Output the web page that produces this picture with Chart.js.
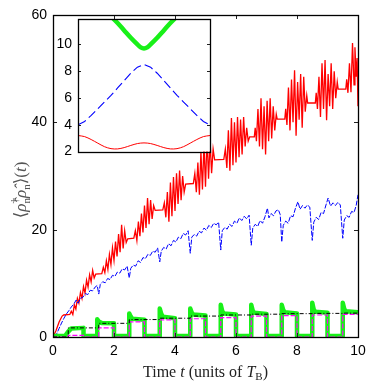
<!DOCTYPE html>
<html>
<head>
<meta charset="utf-8">
<script src="https://cdn.jsdelivr.net/npm/chart.js@4.4.1/dist/chart.umd.min.js"></script>
<style>
  body { margin: 0; background: #fff; }
  #wrap { position: relative; width: 374px; height: 387px; }
  #mainChart { position: absolute; left: 0; top: 0; }
  #insetChart { position: absolute; left: 54px; top: 4px; }
</style>
</head>
<body>
<div id="wrap">
  <canvas id="mainChart" width="374" height="387"></canvas>
  <canvas id="insetChart" width="160" height="162"></canvas>
</div>
<script>
// ---- main panel data (time in units of T_B) ----
const xTicks = [0, 2, 4, 6, 8, 10];
const yTicks = [0, 20, 40, 60];

const redT = [0, 0.1, 0.2, 0.3, 0.35, 0.55,
  0.6, 0.65, 0.7, 0.75, 0.8, 0.85, 0.9, 0.95, 1.0, 1.05, 1.1, 1.15, 1.2, 1.25, 1.3, 1.35, 1.4, 1.6,
  1.65, 1.7, 1.75, 1.8, 1.85, 1.9, 1.95, 2.0, 2.05, 2.1, 2.15, 2.2, 2.25, 2.3, 2.35, 2.4, 2.45, 2.65,
  2.7, 2.75, 2.8, 2.85, 2.9, 2.95, 3.0, 3.05, 3.1, 3.15, 3.2, 3.25, 3.3, 3.35, 3.6,
  3.65, 3.7, 3.75, 3.8, 3.85, 3.9, 3.95, 4.0, 4.05, 4.1, 4.15, 4.2, 4.25, 4.3, 4.35, 4.6,
  4.65, 4.7, 4.75, 4.8, 4.85, 4.9, 4.95, 5.0, 5.05, 5.1, 5.15, 5.2, 5.25, 5.3, 5.6,
  5.65, 5.7, 5.75, 5.8, 5.85, 5.9, 5.95, 6.0, 6.05, 6.1, 6.15, 6.2, 6.25, 6.3, 6.35, 6.4, 6.45, 6.6,
  6.63, 6.67, 6.72, 6.77, 6.82, 6.87, 6.92, 6.97, 7.02, 7.07, 7.12, 7.17, 7.22, 7.27, 7.32, 7.35, 7.6,
  7.63, 7.67, 7.72, 7.77, 7.82, 7.87, 7.92, 7.97, 8.02, 8.07, 8.12, 8.17, 8.22, 8.27, 8.32, 8.35, 8.6,
  8.63, 8.67, 8.72, 8.77, 8.82, 8.87, 8.92, 8.97, 9.02, 9.07, 9.12, 9.17, 9.22, 9.27, 9.32, 9.35, 9.6,
  9.63, 9.67, 9.72, 9.77, 9.82, 9.87, 9.9, 9.94, 9.97, 10.0];
const redY = [0, 1.2, 2.8, 3.9, 4.1, 4.2,
  4.8, 4.2, 6.0, 5.2, 7.2, 6.3, 8.3, 7.2, 9.4, 8.2, 10.6, 9.3, 11.6, 10.3, 12.4, 11.0, 11.7, 11.8,
  13.0, 12.0, 14.2, 12.6, 15.4, 13.5, 16.6, 14.3, 17.8, 15.0, 19.2, 15.8, 20.9, 16.5, 19.8, 17.6, 18.3, 18.4,
  19.8, 18.0, 21.5, 18.8, 23.0, 19.5, 24.5, 20.3, 25.9, 21.0, 25.5, 22.0, 24.5, 23.6, 23.7,
  25.0, 22.3, 27.0, 21.5, 28.8, 22.5, 29.8, 23.5, 30.5, 24.8, 31.0, 25.5, 30.0, 27.0, 28.5, 28.6,
  30.5, 27.0, 32.5, 26.5, 34.5, 27.5, 36.0, 28.0, 37.3, 29.5, 36.5, 30.5, 35.0, 33.0, 33.1,
  35.0, 31.5, 38.5, 31.0, 40.8, 32.0, 40.0, 32.5, 41.0, 33.5, 40.5, 34.0, 41.0, 35.5, 39.0, 36.5, 37.3, 37.3,
  39.0, 36.5, 42.5, 35.5, 44.5, 35.0, 43.0, 34.0, 44.0, 36.5, 44.5, 37.0, 43.0, 38.5, 41.5, 40.6, 40.6,
  42.5, 39.5, 46.5, 38.5, 48.0, 40.0, 49.7, 37.5, 47.5, 40.5, 49.0, 39.0, 48.5, 42.0, 45.0, 43.6, 43.6,
  45.5, 42.5, 48.5, 41.0, 51.0, 42.5, 51.6, 40.4, 49.0, 43.0, 51.0, 42.5, 49.5, 44.5, 47.5, 46.2, 46.2,
  48.0, 45.5, 51.0, 45.6, 54.8, 47.0, 54.0, 48.5, 52.0, 43.0];

const blueT = [0.05, 0.12, 0.2, 0.28, 0.36, 0.44, 0.52, 0.6, 0.68, 0.76, 0.82, 0.9, 0.98, 1.06, 1.14, 1.22, 1.3, 1.38, 1.45,
  1.5, 1.55, 1.63, 1.71, 1.79, 1.87, 1.95, 2.03, 2.11, 2.19, 2.27, 2.35, 2.43,
  2.5, 2.55, 2.63, 2.71, 2.79, 2.87, 2.95, 3.03, 3.11, 3.19, 3.27, 3.35, 3.43,
  3.5, 3.55, 3.63, 3.71, 3.79, 3.87, 3.95, 4.03, 4.11, 4.19, 4.27, 4.35, 4.43,
  4.5, 4.55, 4.63, 4.71, 4.79, 4.87, 4.95, 5.03, 5.11, 5.19, 5.27, 5.35, 5.43,
  5.5, 5.55, 5.63, 5.71, 5.79, 5.87, 5.95, 6.03, 6.11, 6.19, 6.27, 6.35, 6.43,
  6.5, 6.55, 6.63, 6.71, 6.79, 6.87, 6.95, 7.03, 7.08, 7.15, 7.23, 7.31, 7.39, 7.45,
  7.5, 7.55, 7.63, 7.71, 7.79, 7.87, 7.95, 8.03, 8.1, 8.18, 8.26, 8.34, 8.42,
  8.5, 8.55, 8.63, 8.71, 8.79, 8.87, 8.95, 9.02, 9.1, 9.18, 9.26, 9.34, 9.42,
  9.5, 9.55, 9.63, 9.71, 9.79, 9.87, 9.94, 10.0];
const blueY = [0, 0.6, 1.6, 2.6, 3.5, 4.3, 4.9, 5.6, 6.1, 6.9, 6.3, 7.2, 7.4, 8.1, 7.9, 8.7, 8.6, 9.3, 9.6,
  8.0, 9.8, 10.3, 10.1, 10.9, 10.7, 11.5, 11.3, 12.1, 11.9, 12.7, 12.5, 13.2,
  11.0, 12.8, 13.4, 13.2, 14.2, 13.9, 14.8, 14.6, 15.4, 15.2, 16.0, 15.8, 16.6,
  14.0, 16.0, 16.7, 16.4, 17.4, 17.0, 18.0, 17.7, 18.6, 18.3, 19.3, 19.0, 19.8,
  15.6, 18.6, 19.1, 18.8, 19.7, 19.4, 20.3, 19.9, 20.8, 20.4, 21.2, 20.9, 21.4,
  16.2, 19.8, 20.4, 20.1, 21.0, 20.6, 21.6, 21.2, 22.2, 21.7, 22.5, 22.0, 22.7,
  17.1, 20.3, 21.0, 20.6, 21.7, 21.2, 22.4, 24.0, 22.2, 23.0, 22.6, 23.5, 23.7, 22.8,
  17.7, 20.8, 21.6, 21.2, 22.6, 22.4, 24.0, 25.2, 23.8, 24.5, 24.0, 24.6, 24.2,
  18.0, 21.4, 22.3, 21.9, 23.2, 23.0, 24.6, 25.9, 24.4, 25.0, 24.5, 25.1, 24.6,
  18.4, 21.8, 22.6, 22.3, 23.4, 23.2, 24.5, 26.5];

const greenT = [0, 0.4, 0.5, 0.6, 1.0, 1.0,
  1.45, 1.45, 1.5, 1.6, 2.0, 2.0,
  2.5, 2.5, 2.55, 2.6, 3.0, 3.0,
  3.5, 3.5, 3.55, 3.6, 4.0, 4.0,
  4.5, 4.5, 4.55, 4.6, 5.0, 5.0,
  5.5, 5.5, 5.55, 5.6, 6.0, 6.0,
  6.5, 6.5, 6.55, 6.6, 7.0, 7.0,
  7.5, 7.5, 7.55, 7.6, 8.0, 8.0,
  8.5, 8.5, 8.55, 8.6, 9.0, 9.0,
  9.5, 9.5, 9.55, 9.6, 10.0];
const greenY = [0.2, 0.2, 1.0, 1.6, 1.7, 0.2,
  0.2, 3.3, 2.9, 2.6, 2.55, 0.2,
  0.2, 4.4, 3.8, 3.4, 3.2, 0.2,
  0.2, 5.3, 4.3, 3.8, 3.5, 0.2,
  0.2, 5.3, 4.5, 4.2, 4.0, 0.2,
  0.2, 6.0, 4.8, 4.4, 4.2, 0.2,
  0.2, 6.0, 4.9, 4.5, 4.3, 0.2,
  0.2, 6.0, 5.0, 4.6, 4.4, 0.2,
  0.2, 6.4, 5.1, 4.7, 4.5, 0.2,
  0.2, 6.4, 5.2, 4.8, 4.6];

const magT = [0, 0.5, 0.5, 1, 1, 1.5, 1.5, 2, 2, 2.5, 2.5, 3, 3, 3.5, 3.5, 4, 4, 4.5, 4.5, 5, 5,
  5.5, 5.5, 6, 6, 6.5, 6.5, 7, 7, 7.5, 7.5, 8, 8, 8.5, 8.5, 9, 9, 9.5, 9.5, 10];
const magY = [0, 0, 0.3, 0.3, 0, 0, 1.7, 1.7, 0, 0, 2.8, 2.8, 0, 0, 3.2, 3.2, 0, 0, 3.4, 3.4, 0,
  0, 3.6, 3.6, 0, 0, 3.9, 3.9, 0, 0, 4.0, 4.0, 0, 0, 4.1, 4.1, 0, 0, 4.2, 4.2];

const blackT = [0, 0.5, 0.5, 1.5, 1.5, 2.5, 2.5, 3.5, 3.5, 4.5, 4.5, 5.5, 5.5, 6.5, 6.5, 7.5, 7.5, 8.5, 8.5, 9.5, 9.5, 10];
const blackY = [0, 0, 1.7, 1.7, 2.55, 2.55, 3.25, 3.25, 3.5, 3.5, 3.9, 3.9, 4.1, 4.1, 4.25, 4.25, 4.35, 4.35, 4.4, 4.4, 4.45, 4.45];

// ---- inset data ----
const insetYTicks = [2, 4, 6, 8, 10];
const qAxis = [-1, -0.9, -0.8, -0.7, -0.6, -0.5, -0.4, -0.3, -0.2, -0.1, 0, 0.1, 0.2, 0.3, 0.4, 0.5, 0.6, 0.7, 0.8, 0.9, 1];
const insetBlue = [4.0, 4.25, 4.7, 5.2, 5.7, 6.2, 6.75, 7.3, 7.85, 8.3, 8.5, 8.3, 7.85, 7.3, 6.75, 6.2, 5.7, 5.2, 4.7, 4.25, 4.0];
const insetRed = [3.2, 3.12, 2.9, 2.63, 2.37, 2.22, 2.2, 2.3, 2.46, 2.6, 2.65, 2.6, 2.46, 2.3, 2.2, 2.22, 2.37, 2.63, 2.9, 3.12, 3.2];
const greenQ = [-0.6, -0.5, -0.4, -0.3, -0.2, -0.1, -0.05, 0, 0.05, 0.1, 0.2, 0.3, 0.4, 0.5, 0.6];
const insetGreen = [12.6, 12.1, 11.6, 11.05, 10.5, 10.0, 9.78, 9.7, 9.78, 10.0, 10.5, 11.05, 11.6, 12.1, 12.6];

const pts = (xs, ys) => xs.map((x, i) => ({ x: x, y: ys[i] }));

const SANS = "'Liberation Sans', Arial, sans-serif";
const SERIF = "'Liberation Serif', 'DejaVu Serif', serif";

// frame + inward ticks (matlab look)
const frameTicks = {
  id: "frameTicks",
  beforeDatasetsDraw(chart) {
    const a = chart.chartArea;
    chart.ctx.save();
    chart.ctx.fillStyle = "#fff";
    chart.ctx.fillRect(a.left, a.top, a.right - a.left, a.bottom - a.top);
    chart.ctx.restore();
  },
  afterDatasetsDraw(chart, args, opts) {
    const { ctx, chartArea: a, scales } = chart;
    const len = opts.len || 4;
    ctx.save();
    ctx.strokeStyle = "#222";
    ctx.lineWidth = 1;
    ctx.beginPath();
    if (opts.xTicks) {
      opts.xTicks.forEach(v => {
        const px = Math.round(scales.x.getPixelForValue(v)) + 0.5;
        ctx.moveTo(px, a.bottom); ctx.lineTo(px, a.bottom - len);
        ctx.moveTo(px, a.top); ctx.lineTo(px, a.top + len);
      });
    }
    opts.yTicks.forEach(v => {
      const py = Math.round(scales.y.getPixelForValue(v)) + 0.5;
      ctx.moveTo(a.left, py); ctx.lineTo(a.left + len, py);
      ctx.moveTo(a.right, py); ctx.lineTo(a.right - len, py);
    });
    ctx.stroke();
    ctx.lineWidth = 1.3;
    ctx.strokeStyle = "#000";
    ctx.strokeRect(Math.round(a.left) + 0.5, Math.round(a.top) + 0.5,
      Math.round(a.right - a.left), Math.round(a.bottom - a.top));
    ctx.restore();
  }
};

// draw a run of text pieces (for sub/superscripts)
function drawPieces(ctx, pieces, cx, baseY) {
  let w = 0;
  pieces.forEach(p => {
    ctx.font = p.f;
    p.w = ctx.measureText(p.t).width;
    if (!p.stack) w += p.w;
  });
  let x = cx - w / 2;
  ctx.textBaseline = "alphabetic";
  ctx.textAlign = "left";
  pieces.forEach(p => {
    ctx.font = p.f;
    ctx.fillText(p.t, x, baseY + (p.dy || 0));
    if (!p.stack) x += p.w;
  });
}

const axisTitles = {
  id: "axisTitles",
  afterDraw(chart) {
    const { ctx, chartArea: a } = chart;
    ctx.save();
    ctx.fillStyle = "#222";
    const cx = (a.left + a.right) / 2;
    drawPieces(ctx, [
      { t: "Time ", f: "16px " + SERIF },
      { t: "t", f: "italic 16px " + SERIF },
      { t: " (units of ", f: "16px " + SERIF },
      { t: "T", f: "italic 16px " + SERIF },
      { t: "B", f: "11px " + SERIF, dy: 3 },
      { t: ")", f: "16px " + SERIF }
    ], cx, 377);

    ctx.translate(26, 190);
    ctx.rotate(-Math.PI / 2);
    ctx.fillStyle = "#555";
    drawPieces(ctx, [
      { t: "\u27E8", f: "17px " + SERIF },
      { t: "\u03C1\u0302", f: "italic 17px " + SERIF },
      { t: "\u2020", f: "11px " + SERIF, dy: -8, stack: true },
      { t: "n", f: "11px " + SERIF, dy: 4 },
      { t: "\u03C1\u0302", f: "italic 17px " + SERIF },
      { t: "n", f: "11px " + SERIF, dy: 4 },
      { t: "\u27E9(", f: "17px " + SERIF },
      { t: "t", f: "italic 17px " + SERIF },
      { t: ")", f: "17px " + SERIF }
    ], 0, 0);
    ctx.restore();
  }
};

new Chart(document.getElementById("mainChart"), {
  type: "line",
  data: {
    datasets: [
      { data: pts(blackT, blackY), borderColor: "#000", borderWidth: 1, borderDash: [4, 2, 1, 2] },
      { data: pts(magT, magY), borderColor: "#ff00ff", borderWidth: 1.2, borderDash: [5, 2] },
      { data: pts(greenT, greenY), borderColor: "#19f019", borderWidth: 4.5, borderJoinStyle: "round" },
      { data: pts(blueT, blueY), borderColor: "#0000ff", borderWidth: 1, borderDash: [5, 1.5] },
      { data: pts(redT, redY), borderColor: "#ff0000", borderWidth: 1.3 }
    ]
  },
  options: {
    responsive: false,
    animation: false,
    events: [],
    elements: { point: { radius: 0 }, line: { tension: 0 } },
    layout: { padding: { top: 15, right: 16, left: 0, bottom: 0 } },
    plugins: {
      legend: { display: false },
      tooltip: { enabled: false },
      frameTicks: { xTicks: xTicks, yTicks: yTicks, len: 4 }
    },
    scales: {
      x: {
        type: "linear", min: 0, max: 10,
        afterBuildTicks: s => { s.ticks = xTicks.map(v => ({ value: v })); },
        afterFit: s => { s.height = 50; },
        grid: { display: false, drawTicks: false },
        border: { display: false },
        ticks: { padding: 6, color: "#000", font: { family: SANS, size: 14 }, maxRotation: 0 }
      },
      y: {
        type: "linear", min: 0, max: 60,
        afterBuildTicks: s => { s.ticks = yTicks.map(v => ({ value: v })); },
        afterFit: s => { s.width = 53; },
        grid: { display: false, drawTicks: false },
        border: { display: false },
        ticks: { padding: 6, color: "#000", font: { family: SANS, size: 14 } }
      }
    }
  },
  plugins: [frameTicks, axisTitles]
});

new Chart(document.getElementById("insetChart"), {
  type: "line",
  data: {
    datasets: [
      { data: pts(greenQ, insetGreen), borderColor: "#19f019", borderWidth: 4.5, tension: 0.3, borderCapStyle: "round" },
      { data: pts(qAxis, insetBlue), borderColor: "#0000ff", borderWidth: 1.1, borderDash: [9, 4] },
      { data: pts(qAxis, insetRed), borderColor: "#ff0000", borderWidth: 1, tension: 0.3 }
    ]
  },
  options: {
    responsive: false,
    animation: false,
    events: [],
    elements: { point: { radius: 0 } },
    layout: { padding: { top: 15, right: 4, left: 0, bottom: 7 } },
    plugins: {
      legend: { display: false },
      tooltip: { enabled: false },
      frameTicks: { yTicks: insetYTicks, len: 3 }
    },
    scales: {
      x: { type: "linear", min: -1, max: 1, display: false },
      y: {
        type: "linear", min: 2, max: 11.9,
        afterBuildTicks: s => { s.ticks = insetYTicks.map(v => ({ value: v })); },
        afterFit: s => { s.width = 24; },
        grid: { display: false, drawTicks: false },
        border: { display: false },
        ticks: { padding: 6, color: "#000", font: { family: SANS, size: 14 } }
      }
    }
  },
  plugins: [frameTicks]
});
</script>
</body>
</html>
